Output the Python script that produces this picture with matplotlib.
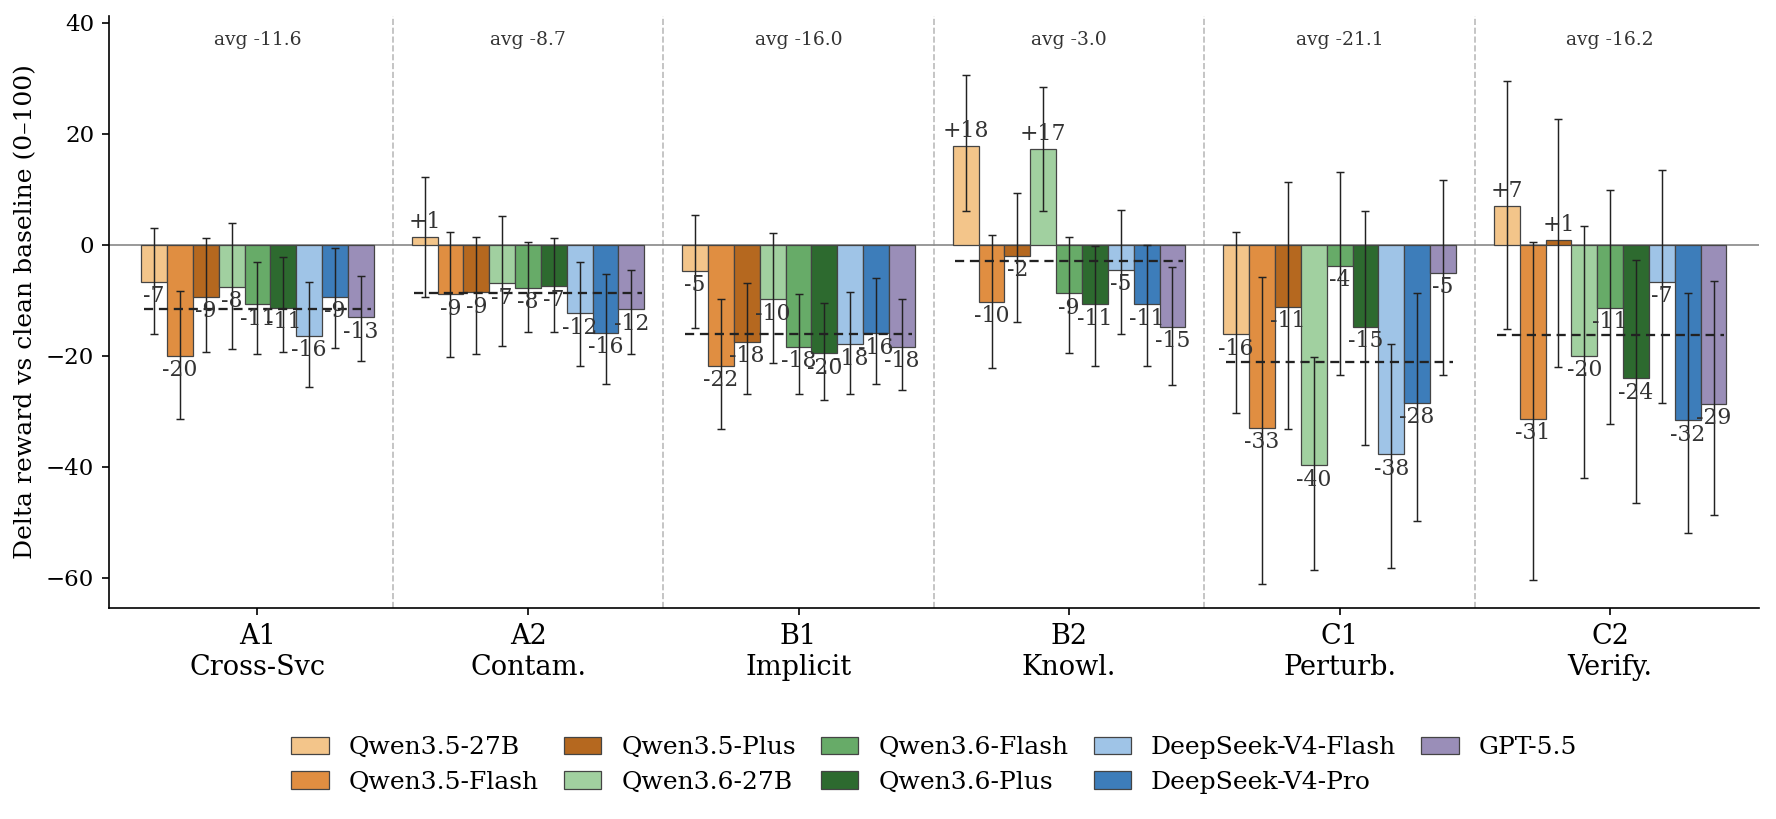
import numpy as np
import matplotlib.pyplot as plt
from matplotlib.patches import Patch
import matplotlib.transforms as mtransforms

plt.rcParams['font.family'] = 'serif'

# Categories (one group of bars per perturbation type)
groups = ['A1\nCross-Svc', 'A2\nContam.', 'B1\nImplicit', 'B2\nKnowl.', 'C1\nPerturb.', 'C2\nVerify.']

models = ['Qwen3.5-27B', 'Qwen3.5-Flash', 'Qwen3.5-Plus',
          'Qwen3.6-27B', 'Qwen3.6-Flash', 'Qwen3.6-Plus',
          'DeepSeek-V4-Flash', 'DeepSeek-V4-Pro', 'GPT-5.5']
colors = ['#f3c58a', '#e08e41', '#b5681f',
          '#a1d0a0', '#67ab68', '#2d6a2f',
          '#9fc4e7', '#3d7dba', '#9a8eb8']

# Delta reward (0-100 scale), one value per model, per group
a1_delta = [-6.7, -20.0, -9.4, -7.6, -10.8, -11.4, -16.4, -9.4, -13.1]
a2_delta = [1.4, -9.0, -8.6, -7.0, -7.8, -7.4, -12.4, -15.9, -11.7]
b1_delta = [-4.7, -21.8, -17.5, -9.9, -18.4, -19.6, -18.0, -16.0, -18.4]
b2_delta = [17.8, -10.3, -2.0, 17.3, -8.8, -10.8, -4.6, -10.8, -14.8]
c1_delta = [-16.2, -33.0, -11.2, -39.8, -3.8, -14.8, -37.8, -28.5, -5.1]
c2_delta = [7.0, -31.4, 0.9, -20.0, -11.4, -24.1, -6.7, -31.7, -28.7]

# Lower / upper ends of the error bars
a1_lo = [-16.2, -31.4, -19.3, -18.9, -19.8, -19.3, -25.6, -18.7, -20.9]
a1_hi = [2.9, -8.3, 1.1, 3.8, -3.1, -2.2, -6.7, -0.7, -5.6]
a2_lo = [-9.4, -20.2, -19.8, -18.2, -15.7, -15.7, -21.8, -25.1, -19.8]
a2_hi = [12.1, 2.3, 1.4, 5.1, 0.4, 1.1, -3.1, -5.4, -4.5]
b1_lo = [-15.1, -33.3, -26.9, -21.3, -26.9, -28.1, -27.0, -25.2, -26.3]
b1_hi = [5.4, -9.9, -7.0, 2.0, -9.0, -10.6, -8.5, -6.0, -9.9]
b2_lo = [6.1, -22.3, -13.9, 6.1, -19.5, -21.8, -16.2, -21.8, -25.4]
b2_hi = [30.6, 1.8, 9.2, 28.3, 1.4, -0.2, 6.3, 0.0, -4.1]
c1_lo = [-30.3, -61.1, -33.3, -58.6, -23.6, -36.2, -58.2, -49.9, -23.6]
c1_hi = [2.3, -5.8, 11.2, -20.2, 13.0, 6.0, -18.0, -8.7, 11.7]
c2_lo = [-15.3, -60.4, -22.1, -42.0, -32.4, -46.5, -28.5, -51.9, -48.8]
c2_hi = [29.4, 0.5, 22.6, 3.4, 9.8, -2.7, 13.5, -8.7, -6.5]

deltas = np.array([a1_delta, a2_delta, b1_delta, b2_delta, c1_delta, c2_delta])
lows = np.array([a1_lo, a2_lo, b1_lo, b2_lo, c1_lo, c2_lo])
highs = np.array([a1_hi, a2_hi, b1_hi, b2_hi, c1_hi, c2_hi])

fig = plt.figure(figsize=(11.84, 5.46), dpi=150)
ax = fig.add_axes([0.0612, 0.2576, 0.9292, 0.723])

x = np.arange(len(groups))
n = len(models)
span = 0.86
w = span / n

for i, (m, c) in enumerate(zip(models, colors)):
    pos = x - span / 2 + w * (i + 0.5)
    vals = deltas[:, i]
    yerr = [vals - lows[:, i], highs[:, i] - vals]
    ax.bar(pos, vals, w, color=c, edgecolor='#444444', linewidth=0.6, zorder=2)
    ax.errorbar(pos, vals, yerr=yerr, fmt='none', ecolor='#222222',
                elinewidth=0.7, capsize=2, capthick=0.7, zorder=3)
    for px, v in zip(pos, vals):
        if v >= 0:
            ax.text(px, v + 0.6, f'{v:+.0f}', ha='center', va='bottom',
                    fontsize=10.5, color='#333333', zorder=5)
        else:
            ax.text(px, v - 0.6, f'{v:+.0f}', ha='center', va='top',
                    fontsize=10.5, color='#333333', zorder=5)

# group averages
trans = mtransforms.blended_transform_factory(ax.transData, ax.transAxes)
for g in range(len(groups)):
    avg = deltas[g].mean()
    ax.hlines(avg, g - span / 2 + 0.01, g + span / 2 - 0.01, colors='#222222',
              linestyles=(0, (4, 2.5)), linewidth=1.1, zorder=4)
    ax.text(g, 0.975, f'avg {avg:.1f}', transform=trans, ha='center', va='top',
            fontsize=9, color='#333333')

for s in x[:-1] + 0.5:
    ax.axvline(s, color='#bbbbbb', linestyle='--', linewidth=0.8, zorder=1)

ax.axhline(0, color='#888888', linewidth=0.8, zorder=1)

ax.set_xlim(-0.55, 5.55)
ax.set_ylim(-65.5, 41.2)
ax.set_xticks(x)
ax.set_xticklabels(groups, fontsize=13)
ax.set_ylabel('Delta reward vs clean baseline (0–100)', fontsize=12)
ax.tick_params(axis='y', labelsize=11)
ax.spines['top'].set_visible(False)
ax.spines['right'].set_visible(False)

handles = [Patch(facecolor=c, edgecolor='#444444', linewidth=0.6, label=m)
           for m, c in zip(models, colors)]
fig.legend(handles=handles, loc='center', bbox_to_anchor=(0.526, 0.066),
           ncol=5, frameon=False, fontsize=12, handlelength=1.5,
           columnspacing=1.0, labelspacing=0.45)

fig.savefig('out.png', dpi=150)
